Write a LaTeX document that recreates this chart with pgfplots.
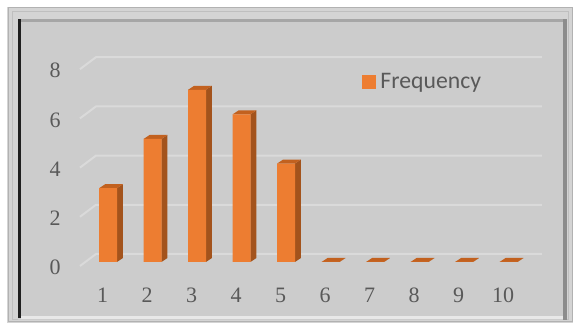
\documentclass[border=0pt]{standalone}
\usepackage{pgfplots}
\pgfplotsset{compat=1.18}
\usepackage{pgfplotstable}
\usepackage{fontspec}
\setmainfont{Liberation Serif}
\newfontfamily\carlito{Carlito}
\definecolor{barfront}{HTML}{ED7D31}
\definecolor{barside}{HTML}{A3531C}
\definecolor{bartop}{HTML}{C2611F}
\definecolor{panel}{HTML}{CCCCCC}
\definecolor{gridc}{HTML}{DADADA}
\definecolor{txt}{HTML}{595959}

\pgfplotstableread{
kk f
1 3
2 5
3 7
4 6
5 4
6 0
7 0
8 0
9 0
10 0
}\freq

\begin{document}
\begin{tikzpicture}[x=0.5pt,y=0.5pt]
\useasboundingbox (0,0) rectangle (574,325);
\fill[white] (0,0) rectangle (574,325);
% frame
\fill[black!17] (7,2) rectangle (573,318);
\draw[black!30, line width=0.5pt] (8,3) rectangle (572,317);
\draw[black!25, line width=0.5pt] (12,5) rectangle (568,313);
\fill[panel] (18,5) rectangle (567,306);
\fill[black!35] (18,303) rectangle (567,306);
\fill[black!9] (21,6) rectangle (563,9);
\fill[black!88] (18,7) rectangle (21,306);
\fill[black!45] (563,5) rectangle (567,306);
\begin{axis}[
  at={(31.75pt,31.5pt)}, anchor=south west,
  x=22.25pt, y=12.3pt,
  xmin=0, xmax=11, ymin=0, ymax=9,
  clip=false,
  axis line style={draw=none},
  major tick length=0pt,
  xtick={1,...,10}, ytick={0,2,...,8},
  ticklabel style={font=\fontsize{11}{12}\selectfont, text=txt, inner sep=0pt},
  xticklabel style={anchor=center, xshift=-2.75pt, yshift=-16.5pt},
  yticklabel style={anchor=east, xshift=-1.25pt, yshift=-2.75pt},
  /pgf/number format/assume math mode=true,
  legend style={at={(axis cs:6.71,7.32)}, anchor=west, draw=none, fill=none,
    inner sep=0pt, font=\carlito\fontsize{11.85}{14}\selectfont, text=txt},
]
% gridlines (back wall + side)
\addplot[gridc, line width=1pt, forget plot] coordinates {(0.37,-0.163) (0.73,0.325) (10.75,0.325)};
\addplot[gridc, line width=1pt, forget plot] coordinates {(0.37,1.837) (0.73,2.325) (10.75,2.325)};
\addplot[gridc, line width=1pt, forget plot] coordinates {(0.37,3.837) (0.73,4.325) (10.75,4.325)};
\addplot[gridc, line width=1pt, forget plot] coordinates {(0.37,5.837) (0.73,6.325) (10.75,6.325)};
\addplot[gridc, line width=1pt, forget plot] coordinates {(0.37,7.837) (0.73,8.325) (10.75,8.325)};
% 3D side and top faces
\pgfplotsforeachungrouped \i in {0,...,9}{%
  \pgfplotstablegetelem{\i}{f}\of\freq \let\vv\pgfplotsretval
  \pgfplotstablegetelem{\i}{kk}\of\freq \let\kc\pgfplotsretval
  \pgfmathsetmacro\xl{\kc-0.2}%
  \pgfmathsetmacro\xr{\kc+0.2}%
  \pgfmathsetmacro\xlb{\kc-0.2+0.135}%
  \pgfmathsetmacro\xrb{\kc+0.2+0.135}%
  \pgfmathsetmacro\vb{\vv+0.163}%
  \edef\cmd{%
    \noexpand\addplot[fill=barside, draw=none, forget plot] coordinates {(\xr,0) (\xrb,0.163) (\xrb,\vb) (\xr,\vv)};
    \noexpand\addplot[fill=bartop, draw=none, forget plot] coordinates {(\xl,\vv) (\xr,\vv) (\xrb,\vb) (\xlb,\vb)};
  }%
  \cmd
}
% front faces
\addplot[ybar, bar width=9pt, fill=barfront, draw=none,
  legend image code/.code={\fill[barfront] (0pt,-3.5pt) rectangle (7pt,3.5pt);}]
  table[x=kk, y=f]{\freq};
\addlegendentry{Frequency}
\end{axis}
\end{tikzpicture}
\end{document}
